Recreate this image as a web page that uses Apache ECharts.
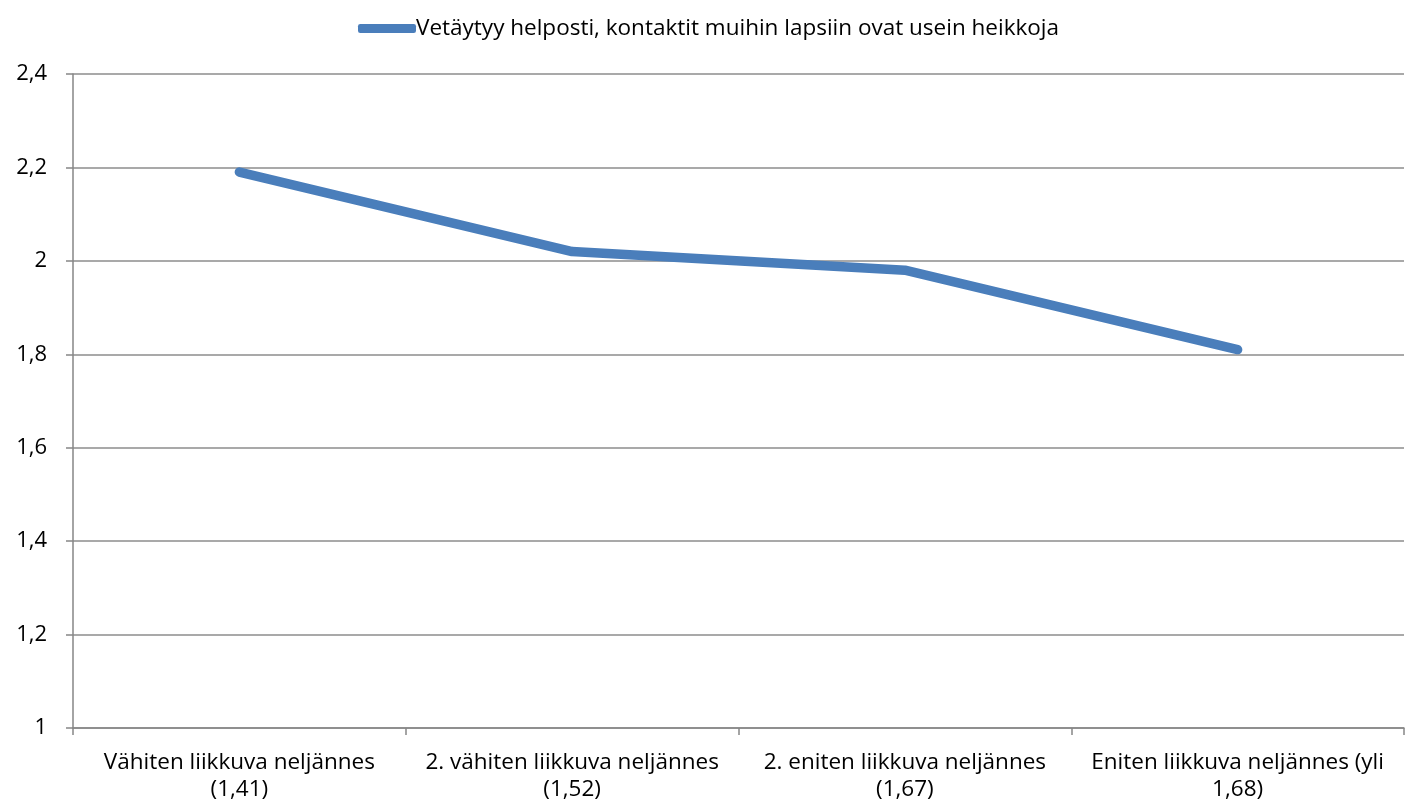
<!DOCTYPE html>
<html>
<head>
<meta charset="utf-8">
<script src="https://cdn.jsdelivr.net/npm/echarts@6/dist/echarts.min.js"></script>
<style>
  html, body { margin: 0; padding: 0; background: #fff; }
  #main { width: 1410px; height: 809px; }
</style>
</head>
<body>
<div id="main"></div>
<script>
  const categories = [
    'Vähiten liikkuva neljännes\n(1,41)',
    '2. vähiten liikkuva neljännes\n(1,52)',
    '2. eniten liikkuva neljännes\n(1,67)',
    'Eniten liikkuva neljännes (yli\n1,68)'
  ]
  const seriesName = 'Vetäytyy helposti, kontaktit muihin lapsiin ovat usein heikkoja'
  const values = [2.19, 2.02, 1.98, 1.81]

  const fontFam = '"Open Sans", sans-serif'
  const fmt = v => String(Math.round(v * 10) / 10).replace('.', ',')

  echarts.init(document.getElementById('main')).setOption({
    animation: false,
    textStyle: { fontFamily: fontFam },
    legend: {
      top: 12,
      left: 353,
      itemWidth: 58,
      itemHeight: 9,
      itemGap: 0,
      icon: 'roundRect',
      textStyle: { fontSize: 22.5, color: '#000', fontFamily: fontFam, padding: [0, 0, 0, -5] },
      data: [seriesName]
    },
    grid: {
      left: 73,
      right: 6,
      top: 74,
      bottom: 81
    },
    xAxis: {
      type: 'category',
      data: categories,
      boundaryGap: true,
      axisLine: { lineStyle: { color: '#868686', width: 1.5 } },
      axisTick: { show: true, length: 7, lineStyle: { color: '#868686', width: 1.5 } },
      axisLabel: { interval: 0, color: '#000', fontSize: 22.5, lineHeight: 27, margin: 21, fontFamily: fontFam }
    },
    yAxis: {
      type: 'value',
      min: 1,
      max: 2.4,
      interval: 0.2,
      axisLine: { show: true, lineStyle: { color: '#868686', width: 1.5 } },
      axisTick: { show: true, length: 7, lineStyle: { color: '#868686', width: 1.5 } },
      splitLine: { lineStyle: { color: '#8c8c8c', width: 1.5 } },
      axisLabel: { color: '#000', fontSize: 22, margin: 26, fontFamily: fontFam, formatter: fmt }
    },
    series: [
      {
        name: seriesName,
        type: 'line',
        data: values,
        symbol: 'none',
        color: '#4a7ebb',
        lineStyle: { width: 9.5, color: '#4a7ebb', cap: 'round', join: 'round' }
      }
    ]
  })
</script>
</body>
</html>
